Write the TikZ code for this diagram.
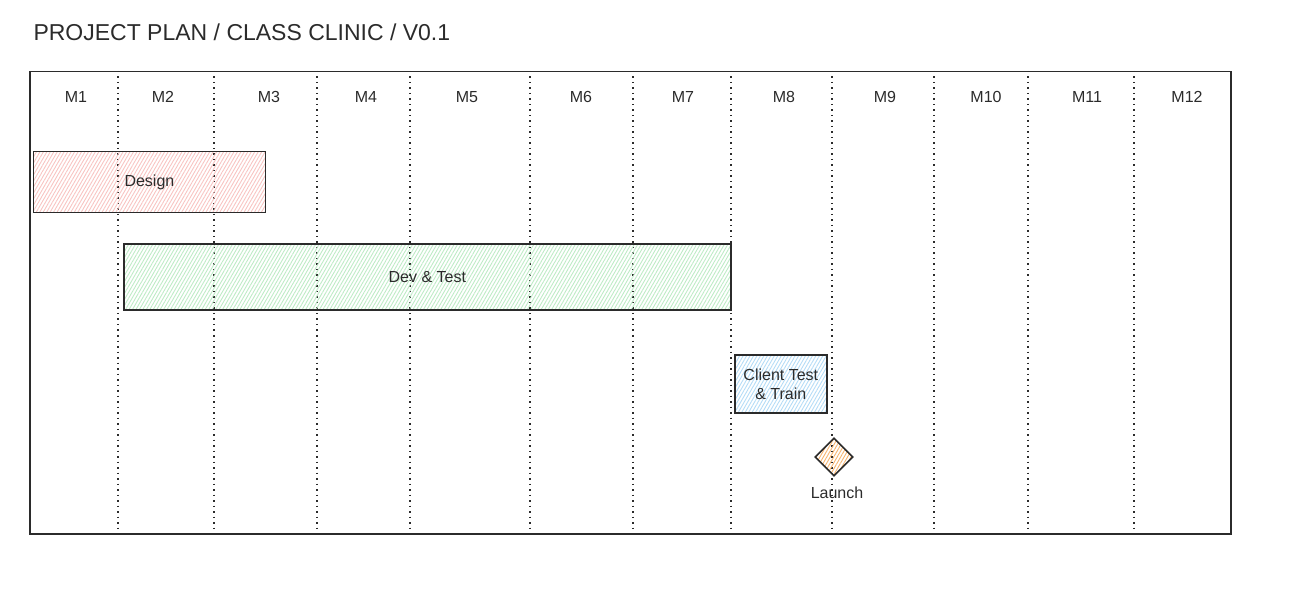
\documentclass[tikz,border=0pt]{standalone}
\usepackage{fontspec}
\setmainfont{Liberation Sans}
\usetikzlibrary{patterns.meta,shapes.geometric,positioning}
\definecolor{pjink}{HTML}{2B2B2B}
\definecolor{pjred}{HTML}{F8C4C2}
\definecolor{pjgreen}{HTML}{BEEBC6}
\definecolor{pjblue}{HTML}{B4DCF6}
\definecolor{pjorange}{HTML}{F7B46E}

\begin{document}
\begin{tikzpicture}[x=1pt,y=-1pt,
    task/.style={draw=pjink,line width=1.6pt,align=center,inner sep=0pt,anchor=north west,
      font=\fontsize{16}{19}\selectfont,text=pjink},
    hatch/.style={pattern={Lines[angle=60,distance=3pt,line width=0.9pt]},pattern color=#1},
    month/.style={font=\fontsize{16}{19}\selectfont,text=pjink},
    gridline/.style={draw=pjink,line width=1.3pt,dash pattern=on 1.5pt off 4pt}]
  \useasboundingbox (0,0) rectangle (1292,593);
  \node[anchor=west,font=\fontsize{23}{27}\selectfont,text=pjink] (title) at (30,32)
    {PROJECT PLAN / CLASS CLINIC / V0.1};
  % timeline frame and month columns
  \node[draw=pjink,line width=1.5pt,minimum width=1201pt,minimum height=462pt,
    anchor=north west,inner sep=0pt] (frame) at (29,71) {};
  \foreach \x in {118,214,317,410,530,633,731,832,934,1028,1134}
    \draw[gridline] (\x,71) -- (\x,533);
  \foreach \x [count=\i] in {76,163,269,366,467,581,683,784,885,986,1087,1187}
    \node[month] (m\i) at (\x,97) {M\i};
  % tasks
  \node[task,hatch=pjred,minimum width=232pt,minimum height=61pt] (design) at (33,151) {Design};
  \node[task,hatch=pjgreen,minimum width=607pt,minimum height=66pt] (dev) at (123,243) {Dev \& Test};
  \node[task,hatch=pjblue,minimum width=92pt,minimum height=58pt] (client) at (734,354)
    {Client Test\\\& Train};
  % milestone
  \node[diamond,draw=pjink,line width=1.6pt,hatch=pjorange,minimum size=38pt,inner sep=0pt] (launch) at (834,457) {};
  \node[month,below=7pt of launch,xshift=3pt] (launchlbl) {Launch};
\end{tikzpicture}
\end{document}
